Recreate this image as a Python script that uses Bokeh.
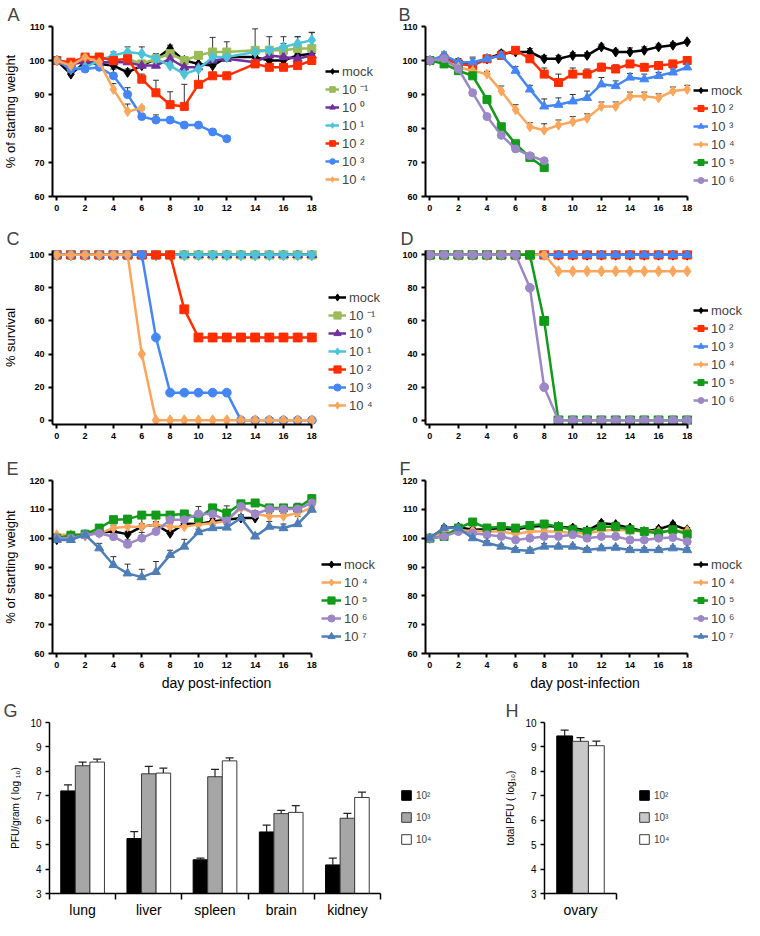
from bokeh.plotting import figure
from bokeh.models import (ColumnDataSource, Legend, LegendItem, Whisker, TeeHead,
                          FixedTicker, Range1d)
from bokeh.layouts import column, row
from bokeh.embed import file_html
from bokeh.resources import INLINE

FONT = "Liberation Sans"

# ---------------- data ----------------
DAYS = [0, 1, 2, 3, 4, 5, 6, 7, 8, 9, 10, 11, 12, 13, 14, 15, 16, 17, 18]
DAYS_A = [0, 1, 2, 3, 4, 5, 6, 7, 8, 9, 10, 11, 12, 14, 15, 16, 17, 18]

# Panel A: % of starting weight
a_mock = [100, 96, 99.5, 99, 98.5, 96.5, 98.5, 100.5, 103.5, 100, 99, 98.5, 101, 101, 100, 100, 101.5, 102]
a_mock_err = [0, 0.5, 0.5, 0.5, 1, 1, 1, 0.5, 1, 0.5, 0.5, 0.5, 0.5, 0.5, 0.5, 0.5, 0.5, 0.5]
a_m1 = [100, 99, 100.5, 101, 100, 100.5, 99, 100.5, 102, 100, 101.5, 102.5, 102.5, 103, 103, 103, 103.5, 103.5]
a_m1_err = [0, 0.5, 0.5, 0.5, 0.5, 0.5, 0.5, 0.5, 0.5, 0.5, 1, 4.3, 3, 6.3, 4, 4, 3.5, 4.8]
a_0 = [100, 99, 99.5, 99.5, 99.5, 99.5, 98.5, 98.5, 100.5, 98, 98, 100, 100.5, 99.5, 101.5, 101, 100.5, 101.5]
a_0_err = [0, 0.5, 0.5, 0.5, 0.5, 0.5, 0.5, 0.5, 0.5, 0.5, 0.5, 0.5, 0.5, 0.5, 0.5, 0.5, 0.5, 0.5]
a_1 = [100, 97.5, 98, 100, 101.5, 102.5, 102, 100.5, 98.5, 96, 97.5, 101, 101, 102.5, 103, 104, 105, 106]
a_1_err = [0, 0.5, 0.5, 0.5, 1, 1.5, 2, 1.5, 1, 1, 1.5, 1, 1, 1, 1, 1, 2, 2.2]
a_2 = [100, 99.5, 101, 101, 100, 100.5, 94.5, 90.5, 87, 86.5, 93, 95.5, 95.5, 99, 98, 98, 98.5, 100]
a_2_err = [0, 0.5, 0.5, 0.5, 0.5, 1, 1.5, 3.7, 3.8, 6.5, 5, 3.5, 1, 1, 1, 1, 1, 1]
a_3 = [100, 97.5, 97.5, 98, 95.5, 90, 83.5, 82.5, 82.5, 81, 81, 79, 77]
a_3_err = [0, 0.5, 0.5, 0.5, 2, 2, 2, 1.5, 0.5, 0.5, 0.5, 0.5, 0.5]
a_4 = [100, 98.5, 101, 99.5, 91.5, 85, 86]
a_4_err = [0, 0.5, 0.5, 0.5, 1.7, 2.2, 0.5]

# Panel B: % of starting weight
b_mock = [100, 101, 99.5, 99, 100.5, 102, 102.5, 102.5, 100.5, 100.5, 101.5, 101.5, 104, 102.5, 102.5, 103, 104, 104.5, 105.5]
b_mock_err = [0, 1, 1, 1.5, 1, 1, 1, 1, 1, 1, 0.8, 0.8, 0.8, 0.8, 1.2, 1, 0.8, 0.8, 0.5]
b_2 = [100, 100.5, 99, 98.5, 100.5, 101.5, 103, 100.5, 96, 93.5, 96, 96, 98, 97.5, 99, 98, 98.5, 99, 100]
b_2_err = [0, 1, 1, 1, 1, 1, 1, 1, 1.8, 2.5, 1.8, 1.5, 1.2, 1.2, 1, 1, 1, 1, 1]
b_3 = [100, 101.5, 99.5, 99.5, 100.5, 101.5, 97, 91.5, 86.5, 87, 88, 89, 93, 92.5, 95, 94.5, 95.5, 96.5, 98]
b_3_err = [0, 1, 1, 1.5, 1, 1, 1.2, 1.2, 2.2, 2, 2, 2, 2, 1.5, 1.2, 1.5, 1, 1, 1]
b_4 = [100, 100, 98, 97, 96, 91, 85.5, 80.5, 79.5, 81, 82, 83, 86.5, 86.5, 89.5, 89.5, 89, 91, 91.5]
b_4_err = [0, 0.5, 0.5, 0.5, 0.8, 1.5, 1.5, 1.2, 1.9, 1.5, 1.5, 1.3, 1.3, 1.3, 1.2, 1.2, 1.2, 1.2, 1.2]
b_5 = [100, 99, 97, 95.5, 88.5, 80.5, 75.5, 71.5, 68.5]
b_6 = [100, 100.5, 97.5, 90.5, 83.5, 78, 74, 72, 70.5]

# Panel C: % survival
c_mock = [100, 100, 100, 100, 100, 100, 100, 100, 100, 100, 100, 100, 100, 100, 100, 100, 100, 100, 100]
c_m1 = [100, 100, 100, 100, 100, 100, 100, 100, 100, 100, 100, 100, 100, 100, 100, 100, 100, 100, 100]
c_0 = [100, 100, 100, 100, 100, 100, 100, 100, 100, 100, 100, 100, 100, 100, 100, 100, 100, 100, 100]
c_1 = [100, 100, 100, 100, 100, 100, 100, 100, 100, 100, 100, 100, 100, 100, 100, 100, 100, 100, 100]
c_2 = [100, 100, 100, 100, 100, 100, 100, 100, 100, 67, 50, 50, 50, 50, 50, 50, 50, 50, 50]
c_3 = [100, 100, 100, 100, 100, 100, 100, 50, 16.7, 16.7, 16.7, 16.7, 16.7, 0, 0, 0, 0, 0, 0]
c_4 = [100, 100, 100, 100, 100, 100, 40, 0, 0, 0, 0, 0, 0, 0, 0, 0, 0, 0, 0]

# Panel D: % survival
d_mock = [100, 100, 100, 100, 100, 100, 100, 100, 100, 100, 100, 100, 100, 100, 100, 100, 100, 100, 100]
d_2 = [100, 100, 100, 100, 100, 100, 100, 100, 100, 100, 100, 100, 100, 100, 100, 100, 100, 100, 100]
d_3 = [100, 100, 100, 100, 100, 100, 100, 100, 100, 100, 100, 100, 100, 100, 100, 100, 100, 100, 100]
d_4 = [100, 100, 100, 100, 100, 100, 100, 100, 100, 90, 90, 90, 90, 90, 90, 90, 90, 90, 90]
d_5 = [100, 100, 100, 100, 100, 100, 100, 100, 60, 0, 0, 0, 0, 0, 0, 0, 0, 0, 0]
d_6 = [100, 100, 100, 100, 100, 100, 100, 80, 20, 0, 0, 0, 0, 0, 0, 0, 0, 0, 0]

# Panel E: % of starting weight
e_mock = [99.5, 100.5, 101, 102, 102.3, 101.4, 104, 104.7, 101.7, 105, 104.9, 105.8, 106.4, 107, 107]
e_mock_err = [0, 0.5, 0.5, 0.5, 1, 1, 3.5, 1, 1, 1, 1, 1, 1, 1, 1]
e_4 = [101.2, 101.2, 101.2, 101.7, 103.5, 104, 104, 104.7, 104, 104, 104.7, 105.2, 106, 110.5, 108.4, 107.6, 107.6, 108.7, 110.5]
e_4_err = [0, 0.5, 0.5, 0.5, 1, 1, 1, 1, 1, 1, 1, 1, 1, 1, 1, 1, 1, 1, 1]
e_5 = [100, 101, 101.4, 103.5, 106.4, 106.6, 108, 108, 108, 108.4, 107, 110.5, 108.7, 111.9, 112.2, 110.5, 110.5, 110.5, 113.7]
e_5_err = [0, 0.5, 0.5, 0.5, 1.2, 1.2, 1, 1, 1, 1, 1, 1, 2.5, 1, 1, 1, 1, 1, 1.2]
e_6 = [100, 100, 101, 101.7, 100.5, 97.9, 100, 102.3, 106.4, 106.4, 108.4, 108.4, 106, 111, 108.4, 110.1, 110.1, 110.1, 112.2]
e_6_err = [0, 0.5, 0.5, 0.5, 1, 1.5, 2, 1, 1, 1, 2.6, 1, 1, 1, 1, 1, 1, 2, 1]
e_7 = [99.4, 99.4, 101.2, 96.5, 90.7, 87.8, 86.5, 88.3, 94.2, 97.1, 102.1, 103.5, 103.7, 107, 100.6, 104, 103.5, 104.9, 109.9]
e_7_err = [0, 0.5, 0.5, 1.7, 2.9, 3.2, 2.7, 3.6, 1.6, 2.5, 1, 1, 1, 1, 1, 1.8, 1.4, 2.7, 1]

# Panel F: % of starting weight
f_mock = [100, 103.5, 103.8, 102.9, 103.1, 103.5, 102.9, 104, 104.3, 104, 103.5, 102.6, 105.2, 104.7, 103.5, 102.3, 103.1, 104.7, 102.9]
f_mock_err = [0, 0.8, 0.8, 0.8, 0.8, 0.8, 0.8, 0.8, 0.8, 0.8, 1, 0.8, 0.8, 0.8, 0.8, 0.8, 0.8, 0.8, 0.8]
f_4 = [100, 101.7, 102.6, 102.6, 102.3, 102.3, 101.4, 102.3, 102.3, 102.3, 101.7, 101.7, 102.6, 102.9, 102.6, 102.3, 102.3, 102.6, 102.6]
f_4_err = [0, 0.6, 0.6, 0.6, 0.6, 0.6, 0.6, 0.6, 0.6, 0.6, 0.6, 0.6, 0.6, 0.6, 0.6, 0.6, 0.6, 0.6, 0.6]
f_5 = [100, 100.6, 103.5, 105.6, 103.5, 104, 103.5, 104.4, 104.9, 104, 102.9, 102.3, 104, 104, 102.9, 102.3, 101.7, 102.9, 101.4]
f_5_err = [0, 0.8, 0.8, 1, 0.8, 0.8, 0.8, 0.8, 0.8, 0.8, 0.8, 0.8, 0.8, 0.8, 0.8, 0.8, 0.8, 0.8, 0.8]
f_6 = [100, 100.6, 102.3, 101.7, 101.2, 100.6, 99.4, 100, 100.6, 100.6, 101.2, 100, 100.6, 100.6, 99.4, 99.4, 100, 100.2, 98.8]
f_6_err = [0, 0.8, 0.8, 0.8, 0.8, 0.8, 0.8, 0.8, 0.8, 0.8, 0.8, 0.8, 0.8, 0.8, 0.8, 0.8, 0.8, 0.8, 0.8]
f_7 = [100, 103.5, 103.5, 100, 98.3, 97.1, 95.9, 95.6, 97.1, 97.1, 97.1, 95.9, 96.5, 96.7, 95.9, 95.9, 95.9, 96.5, 95.9]
f_7_err = [0, 0.8, 0.8, 0.8, 0.8, 0.8, 0.8, 1, 1, 0.8, 0.8, 0.8, 0.8, 0.8, 0.8, 0.8, 0.8, 0.8, 0.8]

# Panel G: PFU/gram (log10)
ORGANS = ["lung", "liver", "spleen", "brain", "kidney"]
g_1e2 = [7.2, 5.25, 4.38, 5.52, 4.17]
g_1e2_err = [0.25, 0.28, 0.07, 0.28, 0.28]
g_1e3 = [8.23, 7.9, 7.78, 6.27, 6.08]
g_1e3_err = [0.15, 0.3, 0.3, 0.13, 0.2]
g_1e4 = [8.38, 7.93, 8.43, 6.32, 6.93]
g_1e4_err = [0.12, 0.2, 0.12, 0.28, 0.22]

# Panel H: total PFU (log10)
H_TISSUE = ["ovary"]
h_1e2 = [9.45]
h_1e2_err = [0.24]
h_1e3 = [9.23]
h_1e3_err = [0.15]
h_1e4 = [9.05]
h_1e4_err = [0.19]

X_TICKS = [0, 2, 4, 6, 8, 10, 12, 14, 16, 18]
W_TICKS_AB = [60, 70, 80, 90, 100, 110]
S_TICKS = [0, 20, 40, 60, 80, 100]
W_TICKS_EF = [60, 70, 80, 90, 100, 110, 120]
PFU_TICKS = [3, 4, 5, 6, 7, 8, 9, 10]

LABELS = {"mock": "mock", "m1": "10 \u207b\u00b9", "0": "10 \u2070", "1": "10 \u00b9",
          "2": "10 \u00b2", "3": "10 \u00b3", "3t": "10 \u00b3", "4": "10 \u2074",
          "5": "10 \u2075", "6": "10 \u2076", "7": "10 \u2077"}

# ---------------- styles ----------------
STYLE = {
    "mock": ("#000000", "diamond", 10),
    "m1": ("#9BBB59", "square", 8),
    "0": ("#7030A0", "triangle", 9),
    "1": ("#4BC4DA", "diamond", 11),
    "2": ("#FF2D00", "square", 8),
    "3": ("#4486F5", "circle", 8),
    "3t": ("#4486F5", "triangle", 9),
    "4": ("#FBA65B", "diamond", 10),
    "5": ("#129A19", "square", 8),
    "6": ("#9C88C6", "circle", 8),
    "7": ("#4E7EB7", "triangle", 9),
}
PX_PER_DAY = 14.3
PX_PER_ORGAN = 66.2
PX_PER_TISSUE = 72.0


def style_axis(ax, size, bold, lw):
    ax.axis_line_width = lw
    ax.axis_line_color = "black"
    ax.major_tick_line_width = lw
    ax.major_tick_line_color = "black"
    ax.major_tick_in = 0
    ax.major_tick_out = 4
    ax.minor_tick_line_color = None
    ax.major_label_text_font = FONT
    ax.major_label_text_font_size = size
    ax.major_label_text_font_style = "bold" if bold else "normal"
    ax.major_label_text_color = "black"
    ax.major_label_standoff = 4
    ax.axis_label_text_font = FONT
    ax.axis_label_text_font_style = "normal"
    ax.axis_label_text_color = "black"


def base_fig(letter, width, height, bl, bt, bb, x_range, y_range, title_offset):
    p = figure(width=width, height=height,
               min_border_left=bl, min_border_right=0,
               min_border_top=bt, min_border_bottom=bb, x_range=x_range, y_range=y_range,
               output_backend="svg", toolbar_location=None, title=letter)
    p.title.text_font = FONT
    p.title.text_font_size = "18px"
    p.title.text_font_style = "normal"
    p.title.align = "left"
    p.title.offset = title_offset
    p.title.standoff = 4
    p.grid.visible = False
    p.outline_line_color = None
    return p


def line_panel(letter, days, series, y_range, y_ticks, ylabel, xlabel, box, title_offset,
               legend_loc, glyph_w, msize=1.0):
    width, height, bl, bt, bb = box
    fw = width - bl
    x0 = -0.3
    p = base_fig(letter, width, height, bl, bt, bb,
                 Range1d(x0, x0 + fw / PX_PER_DAY), y_range, title_offset)
    items = []
    for key, vals, errs in series:
        color, marker, size = STYLE[key]
        xs = days[:len(vals)]
        if errs is not None:
            ups = [v + e for v, e in zip(vals, errs)]
            wsrc = ColumnDataSource(dict(x=xs, lower=vals, upper=ups))
            w = Whisker(source=wsrc, base="x", lower="lower", upper="upper", dimension="height",
                        line_color="#333333", line_width=1, lower_head=None,
                        upper_head=TeeHead(size=6, line_color="#333333", line_width=1))
            p.add_layout(w)
        src = ColumnDataSource(dict(x=xs, y=vals))
        rl = p.line("x", "y", source=src, line_color=color, line_width=2.5)
        rp = p.scatter("x", "y", source=src, marker=marker, size=size * msize,
                       fill_color=color, line_color=color)
        items.append(LegendItem(label=LABELS[key], renderers=[rl, rp]))
    p.xaxis.ticker = FixedTicker(ticks=X_TICKS)
    p.yaxis.ticker = FixedTicker(ticks=y_ticks)
    for ax in p.axis:
        style_axis(ax, "9px", True, 2)
    p.xaxis.bounds = (x0, max(X_TICKS))
    if ylabel:
        p.yaxis.axis_label = ylabel
        p.yaxis.axis_label_text_font_size = "13px"
        p.yaxis.axis_label_standoff = 8
    if xlabel:
        p.xaxis.axis_label = xlabel
        p.xaxis.axis_label_text_font_size = "14px"
        p.xaxis.axis_label_standoff = 4
    leg = Legend(items=items, location=legend_loc, orientation="vertical",
                 glyph_width=glyph_w, glyph_height=18, label_height=18, spacing=0,
                 label_standoff=3, padding=0, margin=0, border_line_color=None,
                 background_fill_alpha=0, label_text_font=FONT, label_text_font_size="13px")
    p.add_layout(leg)
    return p


def bar_panel(letter, cats, groups, ylabel, box, px_per_cat, title_offset, legend_loc, gray):
    width, height, bl, bt, bb = box
    n = len(cats)
    fw = width - bl
    p = base_fig(letter, width, height, bl, bt, bb,
                 Range1d(0, fw / px_per_cat), Range1d(3, 10), title_offset)
    offsets = [-0.22, 0.0, 0.22]
    fills = ["#000000", gray, "#FFFFFF"]
    lines = ["#000000", "#3a3a3a", "#3a3a3a"]
    items = []
    for (label, vals, errs), off, fc, lc in zip(groups, offsets, fills, lines):
        xs = [i + 0.5 + off for i in range(n)]
        src = ColumnDataSource(dict(x=xs, top=vals))
        r = p.vbar(x="x", top="top", bottom=3, width=0.22, source=src,
                   fill_color=fc, line_color=lc, line_width=1)
        ups = [v + e for v, e in zip(vals, errs)]
        wsrc = ColumnDataSource(dict(x=xs, lower=vals, upper=ups))
        p.add_layout(Whisker(source=wsrc, base="x", lower="lower", upper="upper",
                             dimension="height", line_color="#222222", line_width=1.2,
                             lower_head=None, level="overlay",
                             upper_head=TeeHead(size=8, line_color="#222222", line_width=1.2)))
        items.append(LegendItem(label=label, renderers=[r]))
    centers = [i + 0.5 for i in range(n)]
    bounds = [float(i) for i in range(n + 1)]
    p.xaxis.ticker = FixedTicker(ticks=centers, minor_ticks=bounds)
    p.xaxis.major_label_overrides = {c: name for c, name in zip(centers, cats)}
    p.yaxis.ticker = FixedTicker(ticks=PFU_TICKS)
    for ax in p.axis:
        style_axis(ax, "10px", False, 1.5)
    p.xaxis.bounds = (0, n)
    p.xaxis.major_tick_line_color = None
    p.xaxis.major_tick_out = 6
    p.xaxis.minor_tick_line_color = "black"
    p.xaxis.minor_tick_line_width = 1.5
    p.xaxis.minor_tick_out = 6
    p.xaxis.minor_tick_in = 0
    p.xaxis.major_label_text_font_size = "14px"
    p.xaxis.major_label_standoff = 2
    p.yaxis.axis_label = ylabel
    p.yaxis.axis_label_text_font_size = "10px"
    p.yaxis.axis_label_standoff = 6
    leg = Legend(items=items, location=legend_loc, orientation="vertical",
                 glyph_width=12, glyph_height=12, label_height=12, spacing=10,
                 label_standoff=4, padding=0, margin=0, border_line_color=None,
                 background_fill_alpha=0, label_text_font=FONT, label_text_font_size="10px")
    p.add_layout(leg)
    return p


pA = line_panel("A", DAYS_A,
                [("mock", a_mock, a_mock_err), ("m1", a_m1, a_m1_err), ("0", a_0, a_0_err),
                 ("1", a_1, a_1_err), ("2", a_2, a_2_err), ("3", a_3, a_3_err), ("4", a_4, a_4_err)],
                Range1d(60, 110), W_TICKS_AB, "% of starting weight", None,
                (380, 216, 49, 23, 20), -45, (273, 8), 14)
pB = line_panel("B", DAYS,
                [("mock", b_mock, b_mock_err), ("2", b_2, b_2_err), ("3t", b_3, b_3_err),
                 ("4", b_4, b_4_err), ("5", b_5, None), ("6", b_6, None)],
                Range1d(60, 110), W_TICKS_AB, None, None,
                (364, 216, 45, 23, 20), -27, (268, 7), 15)
pC = line_panel("C", DAYS,
                [("mock", c_mock, None), ("m1", c_m1, None), ("0", c_0, None), ("1", c_1, None),
                 ("2", c_2, None), ("3", c_3, None), ("4", c_4, None)],
                Range1d(-2.5, 102.5), S_TICKS, "% survival", None,
                (380, 230, 49, 34, 22), -46, (276, 10), 18, 1.1)
pD = line_panel("D", DAYS,
                [("mock", d_mock, None), ("2", d_2, None), ("3t", d_3, None),
                 ("4", d_4, None), ("5", d_5, None), ("6", d_6, None)],
                Range1d(-2.5, 102.5), S_TICKS, None, None,
                (364, 230, 45, 34, 22), -25, (268, 15), 15, 1.1)
pE = line_panel("E", DAYS,
                [("mock", e_mock, e_mock_err), ("4", e_4, e_4_err), ("5", e_5, e_5_err),
                 ("6", e_6, e_6_err), ("7", e_7, e_7_err)],
                Range1d(60, 120), W_TICKS_EF, "% of starting weight", "day post-infection",
                (380, 250, 49, 34, 43), -46, (269, 8), 20)
pF = line_panel("F", DAYS,
                [("mock", f_mock, f_mock_err), ("4", f_4, f_4_err), ("5", f_5, f_5_err),
                 ("6", f_6, f_6_err), ("7", f_7, f_7_err)],
                Range1d(60, 120), W_TICKS_EF, None, "day post-infection",
                (364, 250, 45, 34, 43), -26, (268, 8), 15)
pG = bar_panel("G", ORGANS,
               [("10\u00b2", g_1e2, g_1e2_err), ("10\u00b3", g_1e3, g_1e3_err),
                ("10\u2074", g_1e4, g_1e4_err)],
               "PFU/gram ( log \u2081\u2080)", (440, 224, 49, 26, 26), PX_PER_ORGAN, -46,
               (351, 48), "#A6A6A6")
pH = bar_panel("H", H_TISSUE,
               [("10\u00b2", h_1e2, h_1e2_err), ("10\u00b3", h_1e3, h_1e3_err),
                ("10\u2074", h_1e4, h_1e4_err)],
               "total PFU ( log\u2081\u2080)", (304, 224, 104, 26, 26), PX_PER_TISSUE, -39,
               (94, 48), "#C8C8C8")

layout = column(row(pA, pB), row(pC, pD), row(pE, pF), row(pG, pH))

with open("out.html", "w") as f:
    f.write(file_html(layout, INLINE))
